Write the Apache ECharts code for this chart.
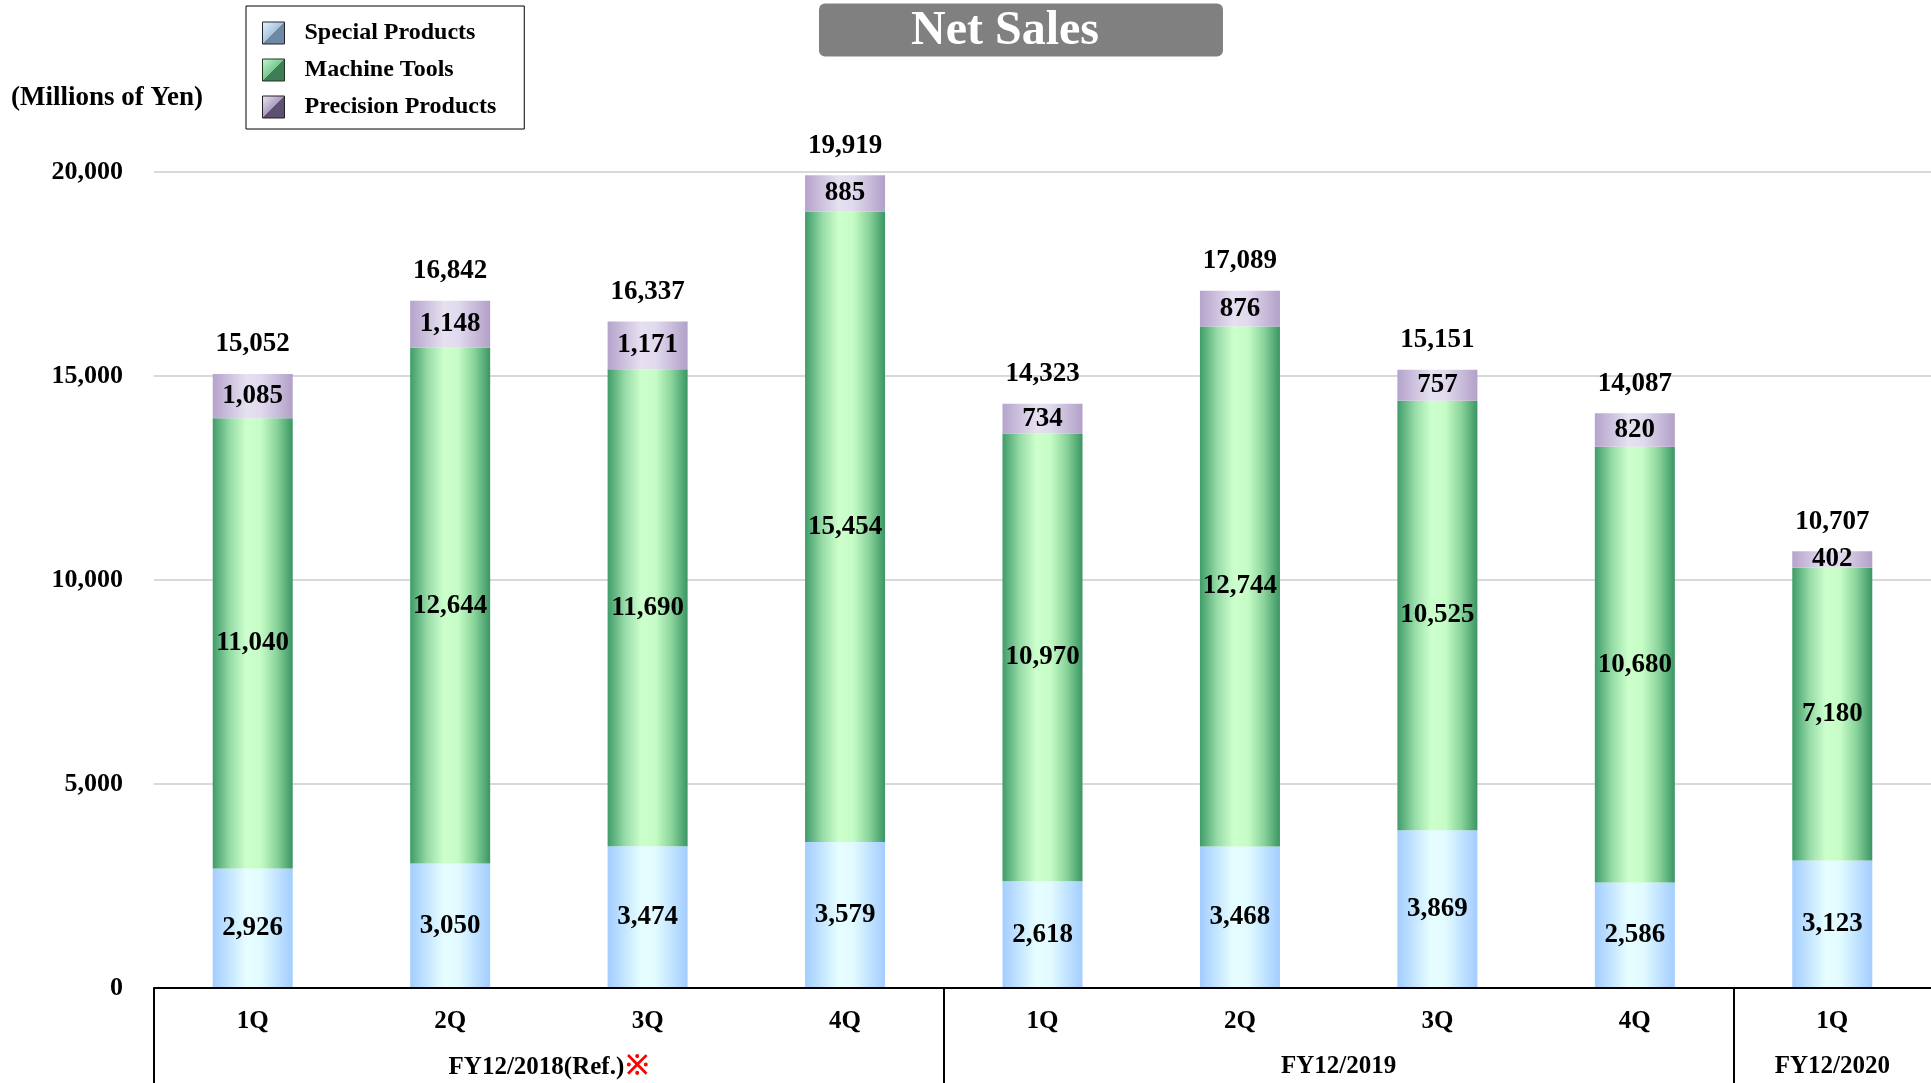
<!DOCTYPE html>
<html>
<head>
<meta charset="utf-8">
<title>Net Sales</title>
<script src="https://cdn.jsdelivr.net/npm/echarts@6/dist/echarts.min.js"></script>
<style>
  html, body { margin: 0; padding: 0; background: #fff; }
  #chart { width: 1931px; height: 1083px; }
</style>
</head>
<body>
<div id="chart"></div>
<script>
// Quarterly net sales by segment (millions of yen)
const quarters = ['1Q', '2Q', '3Q', '4Q', '1Q', '2Q', '3Q', '4Q', '1Q'];
const fiscalYears = [
  { at: 2, text: 'FY12/2018(Ref.){r|※}' },
  { at: 6, text: 'FY12/2019' },
  { at: 8.5, text: 'FY12/2020' }
];
const yearBoundaries = [0, 4, 8];
const specialProducts = [2926, 3050, 3474, 3579, 2618, 3468, 3869, 2586, 3123];
const machineTools = [11040, 12644, 11690, 15454, 10970, 12744, 10525, 10680, 7180];
const precisionProducts = [1085, 1148, 1171, 885, 734, 876, 757, 820, 402];
const totals = [15052, 16842, 16337, 19919, 14323, 17089, 15151, 14087, 10707];
const yTicks = [0, 5000, 10000, 15000, 20000];

const FONT = "'Liberation Serif', 'Times New Roman', serif";
const fmt = v => v.toLocaleString('en-US');

function barGradient(stops) {
  return new echarts.graphic.LinearGradient(0, 0, 1, 0,
    stops.map(([o, c]) => ({ offset: o, color: c })));
}
function iconGradient(light, mid, dark) {
  return new echarts.graphic.LinearGradient(0, 0, 1, 1, [
    { offset: 0, color: light },
    { offset: 0.5, color: mid },
    { offset: 0.51, color: dark },
    { offset: 1, color: dark }
  ]);
}

const blueFill = barGradient([[0, '#a3cdff'], [0.42, '#e6feff'], [0.6, '#e2fbff'], [1, '#a3cdff']]);
const greenFill = barGradient([[0, '#3f9c68'], [0.22, '#98dca8'], [0.42, '#ccffcc'], [0.6, '#c6fcc6'], [0.8, '#8ad49b'], [1, '#3a9563']]);
const purpleFill = barGradient([[0, '#b5a3cc'], [0.42, '#e6e0f0'], [0.6, '#e1daee'], [1, '#b2a0c8']]);

const insideLabel = {
  show: true,
  position: 'inside',
  color: '#000',
  fontFamily: FONT,
  fontWeight: 'bold',
  fontSize: 27,
  formatter: p => fmt(p.value)
};

const chart = echarts.init(document.getElementById('chart'), null, { renderer: 'canvas' });

chart.setOption({
  animation: false,
  backgroundColor: '#fff',
  title: {
    text: 'Net Sales',
    left: 819,
    top: 7,
    padding: [4, 124, 1, 92],
    backgroundColor: '#808080',
    borderRadius: 6,
    textStyle: {
      color: '#fff',
      fontFamily: FONT,
      fontWeight: 'bold',
      fontSize: 48,
      lineHeight: 41
    }
  },
  legend: {
    orient: 'vertical',
    left: 246,
    top: 6,
    padding: [15, 28, 10, 16],
    borderColor: '#000',
    borderWidth: 1,
    itemWidth: 22,
    itemHeight: 22,
    itemGap: 13,
    icon: 'rect',
    textStyle: {
      color: '#000',
      fontFamily: FONT,
      fontWeight: 'bold',
      fontSize: 24,
      padding: [0, 0, 0, 15]
    },
    data: [
      { name: 'Special Products', itemStyle: { color: iconGradient('#e4f4ff', '#a8c4dc', '#6e8aa2'), borderColor: '#223', borderWidth: 1 } },
      { name: 'Machine Tools', itemStyle: { color: iconGradient('#c8f8d4', '#78c890', '#3e7e56'), borderColor: '#232', borderWidth: 1 } },
      { name: 'Precision Products', itemStyle: { color: iconGradient('#f0e8fa', '#aa9cbc', '#5e5070'), borderColor: '#222', borderWidth: 1 } }
    ]
  },
  graphic: [{
    type: 'text',
    left: 11,
    top: 85,
    style: {
      text: '(Millions of Yen)',
      fill: '#000',
      font: "bold 27px 'Liberation Serif', 'Times New Roman', serif"
    }
  }],
  grid: { left: 154, right: 0, top: 172, bottom: 95, containLabel: false },
  xAxis: [{
    type: 'category',
    data: quarters,
    position: 'bottom',
    axisLine: { show: true, lineStyle: { color: '#000', width: 2 } },
    axisTick: { show: false },
    axisLabel: {
      color: '#000',
      fontFamily: FONT,
      fontWeight: 'bold',
      fontSize: 25,
      margin: 21
    },
    z: 10
  }, {
    type: 'value',
    min: 0,
    max: quarters.length,
    position: 'bottom',
    axisLine: { show: false },
    splitLine: { show: false },
    axisTick: {
      show: true,
      customValues: yearBoundaries,
      length: 96,
      lineStyle: { color: '#000', width: 2 }
    },
    axisLabel: {
      customValues: fiscalYears.map(f => f.at),
      formatter: v => {
        const f = fiscalYears.find(g => Math.abs(g.at - v) < 1e-6);
        return f ? f.text : '';
      },
      color: '#000',
      fontFamily: FONT,
      fontWeight: 'bold',
      fontSize: 25,
      margin: 66,
      rich: {
        r: { color: '#ff0000', fontSize: 27, fontFamily: FONT, fontWeight: 'bold', padding: [0, 0, 0, 2] }
      }
    }
  }],
  yAxis: {
    type: 'value',
    min: yTicks[0],
    max: yTicks[yTicks.length - 1],
    interval: 5000,
    axisLine: { show: false },
    axisTick: { show: false },
    splitLine: { show: true, lineStyle: { color: '#d9d9d9', width: 2 } },
    axisLabel: {
      color: '#000',
      fontFamily: FONT,
      fontWeight: 'bold',
      fontSize: 26,
      margin: 31,
      formatter: v => fmt(v)
    }
  },
  series: [{
    name: 'Special Products',
    type: 'bar',
    stack: 'sales',
    barWidth: 80,
    data: specialProducts,
    itemStyle: { color: blueFill },
    label: insideLabel
  }, {
    name: 'Machine Tools',
    type: 'bar',
    stack: 'sales',
    barWidth: 80,
    data: machineTools,
    itemStyle: { color: greenFill },
    label: insideLabel
  }, {
    name: 'Precision Products',
    type: 'bar',
    stack: 'sales',
    barWidth: 80,
    data: precisionProducts,
    itemStyle: { color: purpleFill },
    label: insideLabel
  }, {
    name: 'Total',
    type: 'scatter',
    data: totals,
    symbolSize: 0,
    itemStyle: { color: 'rgba(0,0,0,0)', opacity: 1 },
    label: {
      show: true,
      position: 'top',
      distance: 16,
      color: '#000',
      opacity: 1,
      fontFamily: FONT,
      fontWeight: 'bold',
      fontSize: 27,
      formatter: p => fmt(p.value)
    },
    z: 5
  }]
});
</script>
</body>
</html>
